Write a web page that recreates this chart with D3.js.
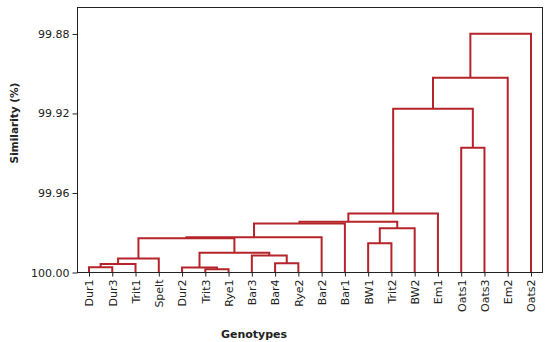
<!DOCTYPE html>
<html lang="en">
<head>
<meta charset="UTF-8">
<title>Genotype similarity dendrogram</title>
<script src="https://d3js.org/d3.v7.min.js"></script>
<style>
  body { margin: 0; background: #fff; }
  svg text { font-family: "DejaVu Sans", sans-serif; fill: #222; }
</style>
</head>
<body>
<div id="chart"></div>
<script>
// leaf order along the x axis
const genotypes = ["Dur1", "Dur3", "Trit1", "Spelt", "Dur2", "Trit3", "Rye1", "Bar3", "Bar4", "Rye2",
                   "Bar2", "Bar1", "BW1", "Trit2", "BW2", "Em1", "Oats1", "Oats3", "Em2", "Oats2"];

// merges: [left id, right id, similarity %]; ids 0-19 are leaves, 20+ are earlier merges
const merges = [
  [0, 1, 99.9974],    // 20
  [20, 2, 99.9957],   // 21
  [21, 3, 99.9929],   // 22
  [5, 6, 99.9984],    // 23
  [4, 23, 99.9975],   // 24
  [8, 9, 99.9954],    // 25
  [7, 25, 99.9915],   // 26
  [24, 26, 99.9901],  // 27
  [22, 27, 99.9828],  // 28
  [28, 10, 99.9823],  // 29
  [29, 11, 99.9753],  // 30
  [12, 13, 99.9853],  // 31
  [31, 14, 99.9778],  // 32
  [30, 32, 99.9745],  // 33
  [33, 15, 99.9703],  // 34
  [16, 17, 99.9373],  // 35
  [34, 35, 99.9176],  // 36
  [36, 18, 99.9020],  // 37
  [37, 19, 99.8799]   // 38
];

const yTicks = [99.88, 99.92, 99.96, 100.00];

const width = 550, height = 342;
const plot = {left: 77.5, right: 542.5, top: 7.5, bottom: 272.5};

const svg = d3.select("#chart").append("svg")
    .attr("width", width)
    .attr("height", height);

const x = d3.scalePoint()
    .domain(genotypes)
    .range([89, 531]);

const y = d3.scaleLinear()
    .domain([100, 99.8667])
    .range([plot.bottom, plot.top]);

// node positions: leaves first, then each merge at the mean of its children
const nodes = genotypes.map(g => ({x: x(g), h: 100}));
merges.forEach(([a, b, h]) => {
    nodes.push({x: (nodes[a].x + nodes[b].x) / 2, h: h, a: a, b: b});
});

// dendrogram links
const links = svg.append("g")
    .attr("fill", "none")
    .attr("stroke", "#b5242b")
    .attr("stroke-width", 2);

nodes.filter(n => n.a !== undefined).forEach(n => {
    const l = nodes[n.a], r = nodes[n.b];
    links.append("path")
        .attr("d", `M${l.x},${y(l.h)}V${y(n.h)}H${r.x}V${y(r.h)}`);
});

// left axis
const yAxis = svg.append("g")
    .attr("transform", `translate(${plot.left},0)`)
    .call(d3.axisLeft(y).tickValues(yTicks).tickFormat(d3.format(".2f")).tickSize(5).tickPadding(3).tickSizeOuter(0));
yAxis.select(".domain").remove();
yAxis.selectAll("text").style("font-size", "11px").attr("fill", "#222");
yAxis.selectAll("line").attr("stroke", "#222");

// bottom axis
const xAxis = svg.append("g")
    .attr("transform", `translate(0,${plot.bottom})`)
    .call(d3.axisBottom(x).tickSize(4).tickSizeOuter(0));
xAxis.select(".domain").remove();
xAxis.selectAll("line").attr("stroke", "#222");
xAxis.selectAll("text")
    .style("font-size", "11px")
    .attr("fill", "#222")
    .attr("transform", "rotate(-90)")
    .attr("text-anchor", "end")
    .attr("x", -7)
    .attr("y", 0)
    .attr("dy", "0.35em");

// plot frame
svg.append("rect")
    .attr("x", plot.left)
    .attr("y", plot.top)
    .attr("width", plot.right - plot.left)
    .attr("height", plot.bottom - plot.top)
    .attr("fill", "none")
    .attr("stroke", "#222")
    .attr("stroke-width", 1);

// axis titles
svg.append("text")
    .attr("x", 254)
    .attr("y", 338)
    .attr("text-anchor", "middle")
    .style("font-size", "11px")
    .style("font-weight", "bold")
    .text("Genotypes");

svg.append("text")
    .attr("transform", "translate(18,123) rotate(-90)")
    .attr("text-anchor", "middle")
    .style("font-size", "10.5px")
    .style("font-weight", "bold")
    .text("Similarity (%)");
</script>
</body>
</html>
